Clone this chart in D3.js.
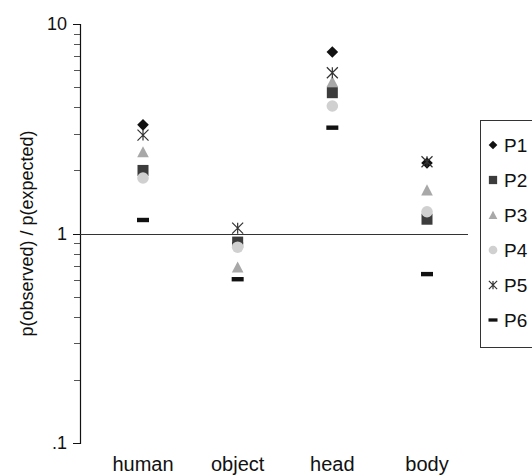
<!DOCTYPE html>
<html>
<head>
<meta charset="utf-8">
<script src="https://cdn.jsdelivr.net/npm/d3@7"></script>
<style>
  body { margin: 0; background: #fff; }
  text { font-family: "Liberation Sans", Arial, sans-serif; fill: #111; }
</style>
</head>
<body>
<svg id="chart"></svg>
<script>
const categories = ["human", "object", "head", "body"];
const seriesNames = ["P1", "P2", "P3", "P4", "P5", "P6"];
const p1 = [3.3, 0.9, 7.35, 2.17];
const p2 = [2.0, 0.91, 4.7, 1.17];
const p3 = [2.45, 0.69, 5.3, 1.61];
const p4 = [1.84, 0.86, 4.06, 1.27];
const p5 = [2.95, 1.06, 5.85, 2.2];
const p6 = [1.16, 0.605, 3.2, 0.64];
const majorTicks = [0.1, 1, 10];
const majorLabels = [".1", "1", "10"];

const seriesValues = [p1, p2, p3, p4, p5, p6];

const config = {
  width: 532, height: 476,
  axisX: 80, top: 24, bottom: 443,
  plotRight: 468
};

const svg = d3.select("#chart")
    .attr("width", config.width)
    .attr("height", config.height);

const yScale = d3.scaleLog()
    .domain([0.1, 10])
    .range([config.bottom, config.top]);

const xScale = d3.scalePoint()
    .domain(categories)
    .range([143, 427]);

// minor ticks, 2..9 per decade
const minorTicks = [];
[0.1, 1].forEach(base => {
  for (let k = 2; k <= 9; k++) minorTicks.push(base * k);
});

const yAxis = svg.append("g")
    .attr("transform", `translate(${config.axisX},0)`);

yAxis.selectAll(".minor")
  .data(minorTicks)
  .join("line")
    .attr("class", "minor")
    .attr("x1", -6).attr("x2", 0)
    .attr("y1", d => Math.round(yScale(d)) + 0.5)
    .attr("y2", d => Math.round(yScale(d)) + 0.5)
    .attr("stroke", "#555")
    .attr("stroke-width", 1);

yAxis.selectAll(".major")
  .data(majorTicks)
  .join("line")
    .attr("class", "major")
    .attr("x1", -7).attr("x2", 0)
    .attr("y1", d => Math.round(yScale(d)) + 0.5)
    .attr("y2", d => Math.round(yScale(d)) + 0.5)
    .attr("stroke", "#111")
    .attr("stroke-width", 1);

yAxis.selectAll(".tick-label")
  .data(majorTicks)
  .join("text")
    .attr("class", "tick-label")
    .attr("x", -13)
    .attr("y", d => yScale(d))
    .attr("dy", "0.36em")
    .attr("text-anchor", "end")
    .style("font-size", "18px")
    .text((d, i) => majorLabels[i]);

yAxis.append("line")
    .attr("x1", 0.5).attr("x2", 0.5)
    .attr("y1", config.top)
    .attr("y2", config.bottom + 1)
    .attr("stroke", "#111")
    .attr("stroke-width", 1.2);

// y label
svg.append("text")
    .attr("transform", `translate(33, ${yScale(1)}) rotate(-90)`)
    .attr("text-anchor", "middle")
    .style("font-size", "18px")
    .text("p(observed) / p(expected)");

// reference line at 1
svg.append("line")
    .attr("x1", config.axisX)
    .attr("x2", config.plotRight)
    .attr("y1", Math.round(yScale(1)) + 0.5)
    .attr("y2", Math.round(yScale(1)) + 0.5)
    .attr("stroke", "#333")
    .attr("stroke-width", 1.2);

// category labels
svg.selectAll(".cat")
  .data(categories)
  .join("text")
    .attr("class", "cat")
    .attr("x", d => xScale(d))
    .attr("y", 471)
    .attr("text-anchor", "middle")
    .style("font-size", "20px")
    .text(d => d);

// marker drawing
function drawMarker(g, idx, s) {
  // s = scale factor
  if (idx === 0) {
    const r = 5.8 * s;
    g.append("path").attr("d", `M0,${-r}L${r},0L0,${r}L${-r},0Z`).attr("fill", "#111");
  } else if (idx === 1) {
    const r = 5.5 * s;
    g.append("rect").attr("x", -r).attr("y", -r).attr("width", 2 * r).attr("height", 2 * r)
      .attr("fill", "#3c3c3c");
  } else if (idx === 2) {
    const r = 5.8 * s;
    g.append("path").attr("d", `M0,${-r}L${r},${r * 0.9}L${-r},${r * 0.9}Z`).attr("fill", "#a8a8a8");
  } else if (idx === 3) {
    g.append("circle").attr("r", 5.8 * s).attr("fill", "#d0d0d0");
  } else if (idx === 4) {
    const r = 5.5 * s;
    g.append("path")
      .attr("d", `M${-r},${-r}L${r},${r}M${r},${-r}L${-r},${r}M0,${-r}L0,${r}`)
      .attr("stroke", "#333").attr("stroke-width", 1.2).attr("fill", "none");
  } else {
    const w = 6 * s, h = 2.2 * s;
    g.append("rect").attr("x", -w).attr("y", -h).attr("width", 2 * w).attr("height", 2 * h)
      .attr("fill", "#111");
  }
}

// points
seriesValues.forEach((vals, si) => {
  const layer = svg.append("g").attr("class", "series-" + seriesNames[si]);
  vals.forEach((v, ci) => {
    const g = layer.append("g")
        .attr("transform", `translate(${xScale(categories[ci])},${yScale(v)})`);
    drawMarker(g, si, 1);
  });
});

// legend
const legend = svg.append("g").attr("transform", "translate(480,120)");
legend.append("rect")
    .attr("x", 0.5).attr("y", 0.5)
    .attr("width", 70).attr("height", 227)
    .attr("fill", "#fff")
    .attr("stroke", "#333")
    .attr("stroke-width", 1);

seriesNames.forEach((name, i) => {
  const row = legend.append("g")
      .attr("transform", `translate(13, ${25 + i * 35})`);
  drawMarker(row, i, 0.75);
  row.append("text")
      .attr("x", 11)
      .attr("dy", "0.36em")
      .style("font-size", "19px")
      .text(name);
});
</script>
</body>
</html>
